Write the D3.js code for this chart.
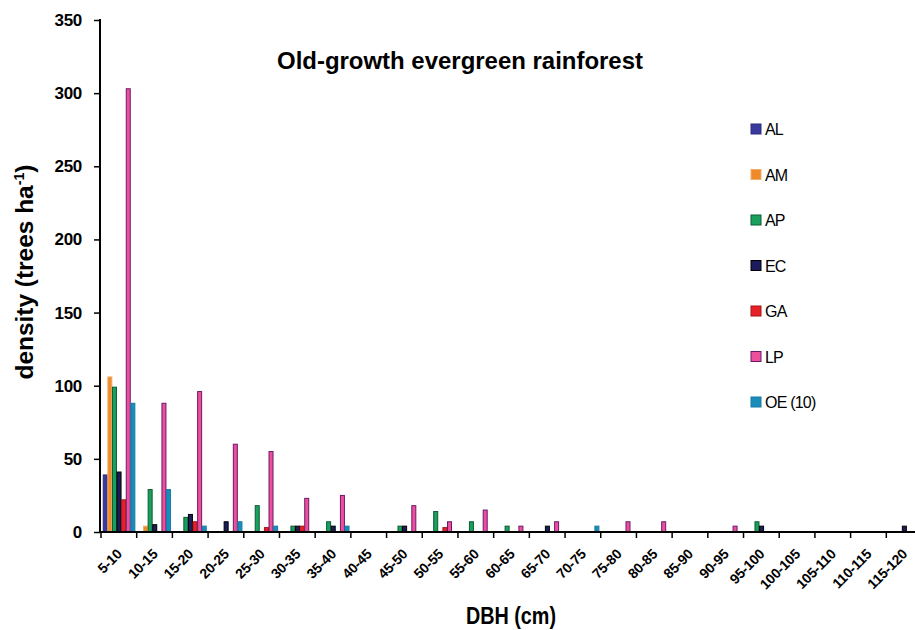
<!DOCTYPE html>
<html>
<head>
<meta charset="utf-8">
<script src="https://cdn.jsdelivr.net/npm/d3@7/dist/d3.min.js"></script>
<style>
  body { margin: 0; background: #fff; }
  svg { display: block; font-family: "Liberation Sans", Arial, sans-serif; }
</style>
</head>
<body>
<svg id="chart" width="915" height="630"></svg>
<script>
// DBH classes (cm)
const categories = ["5-10","10-15","15-20","20-25","25-30","30-35","35-40","40-45","45-50","50-55",
  "55-60","60-65","65-70","70-75","75-80","80-85","85-90","90-95","95-100","100-105",
  "105-110","110-115","115-120"];

const seriesNames = ["AL", "AM", "AP", "EC", "GA", "LP", "OE (10)"];

// density (trees per ha) per DBH class
const AL = [39,0,0,0,0,0,0,0,0,0,0,0,0,0,0,0,0,0,0,0,0,0,0];
const AM = [106,4,0,0,0,0,0,0,0,0,0,0,0,0,0,0,0,0,0,0,0,0,0];
const AP = [99,29,10,0,18,4,7,0,4,14,7,4,0,0,0,0,0,0,7,0,0,0,0];
const EC = [41,5,12,7,0,4,4,0,4,0,0,0,4,0,0,0,0,0,4,0,0,0,4];
const GA = [22,0,7,0,3,4,0,0,0,3,0,0,0,0,0,0,0,0,0,0,0,0,0];
const LP = [303,88,96,60,55,23,25,0,18,7,15,4,7,0,7,7,0,4,0,0,0,0,0];
const OE = [88,29,4,7,4,0,4,0,0,0,0,0,0,4,0,0,0,0,0,0,0,0,0];

const yTicks = [0, 50, 100, 150, 200, 250, 300, 350];

const fills   = ["#3a3a9e", "#ee8a2a", "#19a05c", "#1c1c5c", "#e8202a", "#ee4f9c", "#1a8cba"];
const strokes = ["#2c2c80", "#f3ad6a", "#0b5a32", "#000000", "#a51414", "#6a1a6c", "#177aa2"];

const seriesValues = [AL, AM, AP, EC, GA, LP, OE];

const svg = d3.select("#chart");

const x0 = d3.scaleBand().domain(categories).range([101, 922]).paddingInner(0).paddingOuter(0);
const x1 = d3.scaleBand().domain(seriesNames).range([0, x0.bandwidth()]).paddingInner(0).paddingOuter(0.38);
const y = d3.scaleLinear().domain([0, 350]).range([532, 20]);
const color = d3.scaleOrdinal().domain(seriesNames).range(fills);
const stroke = d3.scaleOrdinal().domain(seriesNames).range(strokes);

// bars (empty classes are not drawn)
const bars = [];
seriesNames.forEach((s, si) => {
  seriesValues[si].forEach((v, ci) => {
    if (v > 0) bars.push({ series: s, cat: categories[ci], value: v });
  });
});

svg.append("g").selectAll("rect").data(bars).join("rect")
  .attr("x", d => x0(d.cat) + x1(d.series) + 0.5)
  .attr("y", d => y(d.value))
  .attr("width", x1.bandwidth() - 0.6)
  .attr("height", d => y(0) - y(d.value))
  .attr("fill", d => color(d.series))
  .attr("stroke", d => stroke(d.series))
  .attr("stroke-width", 1);

// y axis
const yAxis = svg.append("g").attr("transform", "translate(100,0)")
  .call(d3.axisLeft(y).tickValues(yTicks).tickSize(6).tickPadding(12));
yAxis.select(".domain").attr("stroke", "#000").attr("stroke-width", 2).attr("d", "M0,19V533");
yAxis.selectAll(".tick line").attr("stroke", "#000").attr("stroke-width", 1.5);
yAxis.selectAll(".tick text")
  .attr("fill", "#000").attr("font-size", 17).attr("font-weight", "bold")
  .attr("font-family", "'Liberation Sans', Arial, sans-serif")
  .attr("letter-spacing", "-0.3");

// x axis: labels at class centres, ticks at class boundaries
const xAxis = svg.append("g").attr("transform", "translate(0,532)")
  .call(d3.axisBottom(x0).tickSize(0).tickPadding(0));
xAxis.select(".domain").attr("stroke", "#000").attr("stroke-width", 2).attr("d", "M100,0H922");
xAxis.selectAll(".tick text")
  .attr("fill", "#000").attr("font-size", 14).attr("font-weight", "bold")
  .attr("font-family", "'Liberation Sans', Arial, sans-serif")
  .attr("letter-spacing", "-0.2")
  .attr("text-anchor", "end")
  .attr("dy", 0)
  .attr("y", 0)
  .attr("transform", "translate(4,23) rotate(-45)");

const bounds = categories.map(c => x0(c)).concat([x0.range()[1]]);
svg.append("g").selectAll("line").data(bounds).join("line")
  .attr("x1", d => d).attr("x2", d => d)
  .attr("y1", 532).attr("y2", 538)
  .attr("stroke", "#000").attr("stroke-width", 1.5);

// title
svg.append("text")
  .attr("x", 460).attr("y", 69)
  .attr("text-anchor", "middle")
  .attr("font-size", 24).attr("font-weight", "bold")
  .attr("textLength", 366).attr("lengthAdjust", "spacingAndGlyphs")
  .text("Old-growth evergreen rainforest");

// axis titles
const yTitle = svg.append("text")
  .attr("transform", "translate(33,272) rotate(-90)")
  .attr("text-anchor", "middle")
  .attr("font-size", 24).attr("font-weight", "bold")
  .attr("textLength", 215).attr("lengthAdjust", "spacingAndGlyphs");
yTitle.append("tspan").text("density (trees ha");
yTitle.append("tspan").attr("font-size", 14).attr("dy", -9).text("-1");
yTitle.append("tspan").attr("dy", 9).text(")");

svg.append("text")
  .attr("x", 511).attr("y", 624)
  .attr("text-anchor", "middle")
  .attr("font-size", 23).attr("font-weight", "bold")
  .attr("textLength", 90).attr("lengthAdjust", "spacingAndGlyphs")
  .text("DBH (cm)");

// legend
const legend = svg.append("g").selectAll("g").data(seriesNames).join("g")
  .attr("transform", (d, i) => `translate(751,${129 + i * 45.5})`);
legend.append("rect")
  .attr("x", 0).attr("y", -5).attr("width", 10).attr("height", 10)
  .attr("fill", d => color(d)).attr("stroke", d => stroke(d)).attr("stroke-width", 1);
legend.append("text")
  .attr("x", 14).attr("y", 6)
  .attr("font-size", 16).attr("letter-spacing", "-0.8")
  .attr("fill", "#000")
  .text(d => d);
</script>
</body>
</html>
